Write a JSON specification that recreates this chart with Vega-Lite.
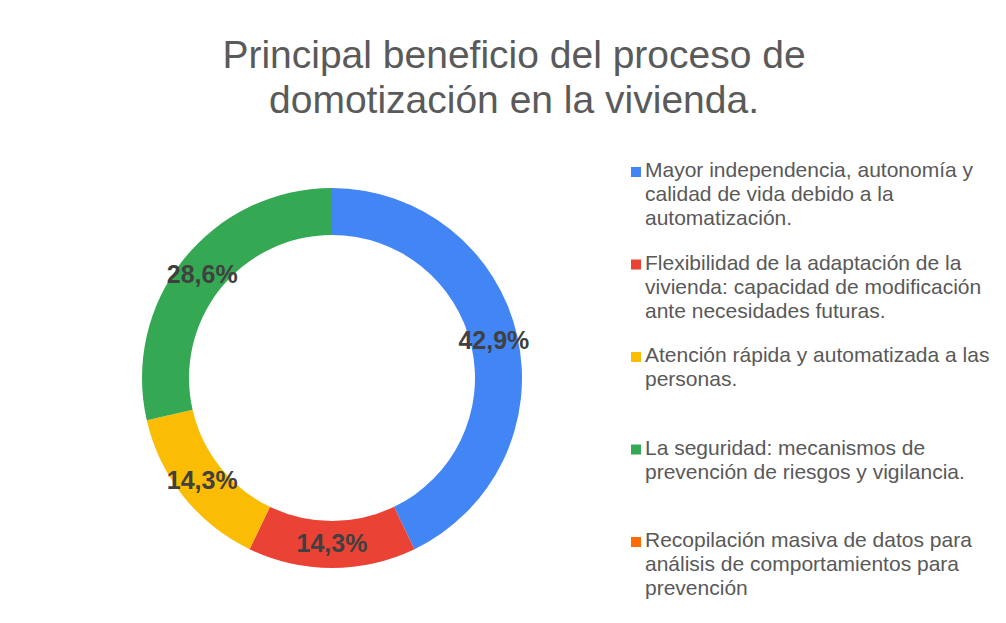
{
  "$schema": "https://vega.github.io/schema/vega-lite/v6.json",
  "autosize": {"type": "pad"},
  "padding": {"left": 126, "top": 37, "right": 10, "bottom": 0},
  "background": "white",
  "title": {
    "text": ["Principal beneficio del proceso de", "domotización en la vivienda."],
    "font": "Arial, 'Liberation Sans', sans-serif",
    "fontSize": 39,
    "fontWeight": "normal",
    "color": "#5a5a5a",
    "lineHeight": 45,
    "anchor": "middle",
    "dx": -47,
    "offset": 39
  },
  "datasets": {
    "beneficios": [
      {"orden": 1, "categoria": "Mayor independencia, autonomía y calidad de vida debido a la automatización.", "leyenda": "Mayor independencia, autonomía y\ncalidad de vida debido a la\nautomatización.", "valor": 42.9, "etiqueta": "42,9%"},
      {"orden": 2, "categoria": "Flexibilidad de la adaptación de la vivienda: capacidad de modificación ante necesidades futuras.", "leyenda": "Flexibilidad de la adaptación de la\nvivienda: capacidad de modificación\nante necesidades futuras.", "valor": 14.3, "etiqueta": "14,3%"},
      {"orden": 3, "categoria": "Atención rápida y automatizada a las personas.", "leyenda": "Atención rápida y automatizada a las\npersonas.", "valor": 14.3, "etiqueta": "14,3%"},
      {"orden": 4, "categoria": "La seguridad: mecanismos de prevención de riesgos y vigilancia.", "leyenda": "La seguridad: mecanismos de\nprevención de riesgos y vigilancia.", "valor": 28.6, "etiqueta": "28,6%"},
      {"orden": 5, "categoria": "Recopilación masiva de datos para análisis de comportamientos para prevención", "leyenda": "Recopilación masiva de datos para\nanálisis de comportamientos para\nprevención", "valor": 0, "etiqueta": "0,0%"}
    ]
  },
  "config": {
    "view": {"stroke": null},
    "font": "Arial, 'Liberation Sans', sans-serif"
  },
  "spacing": 93,
  "hconcat": [
    {
      "width": 412,
      "height": 412,
      "data": {"name": "beneficios"},
      "encoding": {
        "theta": {"field": "valor", "type": "quantitative", "stack": true},
        "order": {"field": "orden", "type": "quantitative"}
      },
      "layer": [
        {
          "mark": {"type": "arc", "radius": 190, "innerRadius": 143},
          "encoding": {
            "color": {
              "field": "categoria",
              "type": "nominal",
              "scale": {
                "domain": [
                  "Mayor independencia, autonomía y calidad de vida debido a la automatización.",
                  "Flexibilidad de la adaptación de la vivienda: capacidad de modificación ante necesidades futuras.",
                  "Atención rápida y automatizada a las personas.",
                  "La seguridad: mecanismos de prevención de riesgos y vigilancia.",
                  "Recopilación masiva de datos para análisis de comportamientos para prevención"
                ],
                "range": ["#4285F4", "#EA4335", "#FBBC04", "#34A853", "#FF6D01"]
              },
              "legend": null
            }
          }
        },
        {
          "transform": [{"filter": "datum.valor > 0"}],
          "mark": {"type": "text", "radius": 166, "fontSize": 25, "fontWeight": "bold", "color": "#404040", "font": "Arial, 'Liberation Sans', sans-serif"},
          "encoding": {
            "text": {"field": "etiqueta", "type": "nominal"}
          }
        }
      ]
    },
    {
      "width": 360,
      "height": 370,
      "data": {"name": "beneficios"},
      "encoding": {
        "y": {"field": "categoria", "type": "nominal", "sort": {"field": "orden"}, "scale": {"type": "point", "padding": 0}, "axis": null},
        "x": {"datum": 0, "type": "quantitative", "scale": {"domain": [0, 1]}, "axis": null}
      },
      "layer": [
        {
          "mark": {"type": "point", "shape": "square", "filled": true, "size": 100, "opacity": 1, "strokeWidth": 0},
          "encoding": {
            "color": {
              "field": "categoria",
              "type": "nominal",
              "scale": {
                "domain": [
                  "Mayor independencia, autonomía y calidad de vida debido a la automatización.",
                  "Flexibilidad de la adaptación de la vivienda: capacidad de modificación ante necesidades futuras.",
                  "Atención rápida y automatizada a las personas.",
                  "La seguridad: mecanismos de prevención de riesgos y vigilancia.",
                  "Recopilación masiva de datos para análisis de comportamientos para prevención"
                ],
                "range": ["#4285F4", "#EA4335", "#FBBC04", "#34A853", "#FF6D01"]
              },
              "legend": null
            }
          }
        },
        {
          "mark": {"type": "text", "align": "left", "baseline": "alphabetic", "dx": 9, "dy": 5, "fontSize": 21, "lineHeight": 24, "lineBreak": "\n", "color": "#595959", "font": "Arial, 'Liberation Sans', sans-serif"},
          "encoding": {
            "text": {"field": "leyenda", "type": "nominal"}
          }
        }
      ]
    }
  ]
}
